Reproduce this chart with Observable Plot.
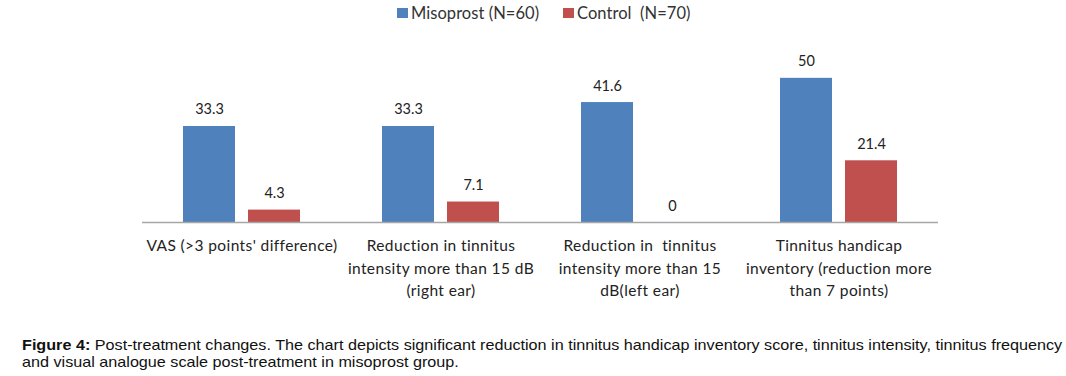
<!DOCTYPE html>
<html>
<head>
<meta charset="utf-8">
<script src="https://cdn.jsdelivr.net/npm/d3@7"></script>
<script src="https://cdn.jsdelivr.net/npm/@observablehq/plot@0.6"></script>
<style>
  html, body { margin: 0; padding: 0; background: #fff; }
  #wrap { width: 1066px; position: relative; }
  #legend { height: 26px; position: relative; font-family: Lato, sans-serif; font-size: 16.5px; letter-spacing: 0.05px; color: #333; }
  .sw { position: absolute; top: 8px; width: 11px; height: 10px; }
  .lt { position: absolute; top: 3px; line-height: 20px; white-space: pre; }
  #caption { font-family: "Liberation Sans", Arial, sans-serif; font-size: 14.6px; line-height: 17px; color: #111; padding-left: 22px; margin-top: 19px; }
  #caption span { display: inline-block; transform: scaleX(1.108); transform-origin: left center; white-space: nowrap; }
</style>
</head>
<body>
<div id="wrap">
  <div id="legend"></div>
  <div id="chart"></div>
  <div id="caption"><span><b>Figure 4:</b> Post-treatment changes. The chart depicts significant reduction in tinnitus handicap inventory score, tinnitus intensity, tinnitus frequency</span><br><span>and visual analogue scale post-treatment in misoprost group.</span></div>
</div>
<script>
const categories = [
  "VAS (>3 points' difference)",
  "Reduction in tinnitus\nintensity more than 15 dB\n(right ear)",
  "Reduction in  tinnitus\nintensity more than 15\ndB(left ear)",
  "Tinnitus handicap\ninventory (reduction more\nthan 7 points)"
];
const seriesNames = ["Misoprost (N=60)", "Control  (N=70)"];
const misoprost = [33.3, 33.3, 41.6, 50];
const control = [4.3, 7.1, 0, 21.4];
const valueLabels = [["33.3", "33.3", "41.6", "50"], ["4.3", "7.1", "0", "21.4"]];
const colors = ["#4F81BD", "#C0504D"];

const data = [];
categories.forEach((c, i) => {
  data.push({cat: c, series: seriesNames[0], value: misoprost[i], label: valueLabels[0][i]});
  data.push({cat: c, series: seriesNames[1], value: control[i], label: valueLabels[1][i]});
});

// legend (HTML, above the chart)
const leg = document.getElementById("legend");
const legPos = [[397, 411], [563, 577]];
seriesNames.forEach((s, i) => {
  const sw = document.createElement("span");
  sw.className = "sw";
  sw.style.left = legPos[i][0] + "px";
  sw.style.background = colors[i];
  leg.appendChild(sw);
  const t = document.createElement("span");
  t.className = "lt";
  t.style.left = legPos[i][1] + "px";
  t.textContent = s;
  leg.appendChild(t);
});

const chart = Plot.plot({
  width: 1066,
  height: 292,
  marginLeft: 140,
  marginRight: 127,
  marginTop: 23,
  marginBottom: 96,
  style: {fontFamily: "Lato, sans-serif", fontSize: "14px", color: "#222"},
  fx: {domain: categories, padding: 0, label: null},
  x: {domain: seriesNames, paddingInner: 0.197, paddingOuter: 0.61, axis: null},
  y: {domain: [0, 60], axis: null},
  color: {domain: seriesNames, range: colors},
  marks: [
    Plot.barY(data, {fx: "cat", x: "series", y: "value", fill: "series"}),
    Plot.ruleY([0], {stroke: "#a6a6a6", strokeWidth: 1.6}),
    Plot.text(data, {fx: "cat", x: "series", y: "value", text: "label", lineAnchor: "bottom", dy: -12, fontSize: 14.5, fill: "#222", letterSpacing: 0.3}),
    Plot.axisFx({anchor: "bottom", tickSize: 0, tickPadding: 13, fontSize: 15.5, lineHeight: 1.45, label: null, tickFormat: d => d})
  ]
});
chart.querySelectorAll("g[aria-label='fx-axis tick label'] text").forEach(t => t.style.letterSpacing = "0.4px");
document.getElementById("chart").appendChild(chart);
</script>
</body>
</html>
